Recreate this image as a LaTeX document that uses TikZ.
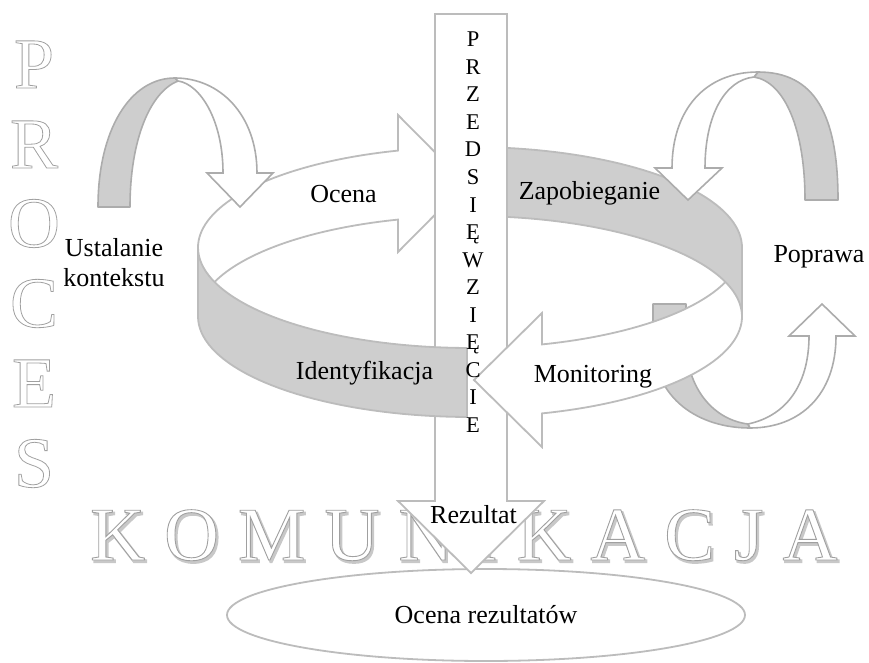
\documentclass[tikz,border=0pt]{standalone}
\usepackage{fontspec}
\setmainfont{Liberation Serif}
\usetikzlibrary{shapes.geometric}

\definecolor{ringfill}{RGB}{206,206,206}
\definecolor{ringline}{RGB}{188,188,188}
\definecolor{arcline}{RGB}{172,172,172}
\definecolor{hollowgray}{RGB}{160,160,160}
\definecolor{shadowgray}{RGB}{200,200,200}

% outlined glyphs: stroke only (#1 = stroke width)
\newcommand\hollowtext[2]{\special{pdf:literal direct 1 Tr #1 w}#2\special{pdf:literal direct 0 Tr}}
% outlined glyphs with white interior
\newcommand\whitehollow[2]{\special{pdf:literal direct 2 Tr #1 w 1 g}#2\special{pdf:literal direct 0 Tr}}
% filled and stroked in the current colour
\newcommand\thicktext[2]{\special{pdf:literal direct 2 Tr #1 w}#2\special{pdf:literal direct 0 Tr}}

% ring geometry: centre x, top and bottom rim centres, radii
\def\ringX{470}\def\ringTop{247.5}\def\ringBot{316.5}\def\ringA{272}\def\ringB{100.5}

\tikzset{
  bandgray/.style={fill=ringfill, draw=ringline, line width=1.8pt, line join=round},
  bandwhite/.style={fill=white, draw=ringline, line width=1.8pt, line join=miter},
  arcgray/.style={fill=ringfill, draw=arcline, line width=1.6pt, line join=round},
  arcwhite/.style={fill=white, draw=arcline, line width=1.6pt, line join=miter},
  txt/.style={font=\fontsize{26}{30}\selectfont, inner sep=0pt},
  vletter/.style={font=\fontsize{22.5}{26}\selectfont, inner sep=0pt, anchor=base},
  bigletter/.style={font=\fontsize{72}{80}\selectfont, inner sep=0pt, anchor=base, text=hollowgray},
  komfont/.style={anchor=base west, inner sep=0pt, font=\fontsize{76}{80}\selectfont},
  toprim/.style={domain=#1, samples=40, variable=\t},
}

\begin{document}
\begin{tikzpicture}[x=1pt,y=-1pt]
\useasboundingbox (0,0) rectangle (869,663);

% ---- P R O C E S down the left side
\foreach \ch/\yy [count=\i] in {P/88,R/168,O/247,C/327,E/407,S/487}
  \node[bigletter] (proc\i) at (34,\yy) {\hollowtext{0.8}{\ch}};

% ---- K O M U N I K A C J A with its shadow
\node[komfont, text=shadowgray] (komshadow) at (91.8,562.2)
  {\thicktext{1.8}{K O M U N I K A C J A}};
\node[komfont, text=hollowgray] (kom) at (90,560)
  {\whitehollow{0.9}{K O M U N I K A C J A}};

% ---- result ellipse
\node[ellipse, draw=ringline, line width=1.8pt, fill=white, minimum width=518pt,
      minimum height=92pt, inner sep=0pt, font=\fontsize{26}{30}\selectfont]
  (wynik) at (486,615) {Ocena rezultatów};

% ---- lower right U-turn arrow (Poprawa)
\draw[arcgray] (653,304) -- (653,340) .. controls (653,400) and (700,428) .. (750,428)
  -- (748,424) .. controls (715,420) and (686,390) .. (686,340) -- (686,304) -- cycle;
\draw[arcwhite] (748,424) .. controls (790,415) and (809,380) .. (809,336)
  -- (789,336) -- (822,304) -- (855,336) -- (836,336)
  .. controls (836,395) and (800,428) .. (750,428) -- cycle;

% ---- back of the ring: Ocena arrow
\draw[bandwhite] (198,\ringBot) -- (198,\ringTop)
  -- plot[toprim=-180:-105.35] ({\ringX+\ringA*cos(\t)},{\ringTop+\ringB*sin(\t)})
  -- (398,115) -- (466,183.5) -- (398,252)
  -- plot[toprim=-105.35:-180] ({\ringX+\ringA*cos(\t)},{\ringBot+\ringB*sin(\t)})
  -- cycle;

% ---- central arrow (PRZEDSIĘWZIĘCIE -> Rezultat)
\draw[arcwhite, draw=ringline, line width=1.8pt] (435,14) -- (507,14) -- (507,501) -- (544,501)
  -- (471,573) -- (398,501) -- (435,501) -- cycle;

% ---- front of the ring: Identyfikacja band
\draw[bandgray]
  plot[toprim=180:90.63] ({\ringX+\ringA*cos(\t)},{\ringTop+\ringB*sin(\t)})
  -- plot[toprim=90.63:180] ({\ringX+\ringA*cos(\t)},{\ringBot+\ringB*sin(\t)})
  -- cycle;

% ---- front of the ring: Monitoring arrow
\draw[bandwhite]
  plot[toprim=0:74.65] ({\ringX+\ringA*cos(\t)},{\ringTop+\ringB*sin(\t)})
  -- (542,313) -- (474,380) -- (542,447)
  -- plot[toprim=74.65:0] ({\ringX+\ringA*cos(\t)},{\ringBot+\ringB*sin(\t)})
  -- cycle;

% ---- back right of the ring: Zapobieganie band
\draw[bandgray]
  plot[toprim=-82.18:0] ({\ringX+\ringA*cos(\t)},{\ringTop+\ringB*sin(\t)})
  -- plot[toprim=0:-82.18] ({\ringX+\ringA*cos(\t)},{\ringBot+\ringB*sin(\t)})
  -- cycle;

% ---- top left arc arrow (Ustalanie kontekstu)
\draw[arcgray] (98,207) .. controls (98,130) and (130,78) .. (175,78)
  -- (178,81) .. controls (150,92) and (130,140) .. (130,207) -- cycle;
\draw[arcwhite] (175,78) .. controls (220,78) and (257,115) .. (257,173)
  -- (273,173) -- (240,207) -- (207,173) -- (223,173)
  .. controls (223,120) and (200,84) .. (178,81) -- cycle;

% ---- top right arc arrow (Poprawa)
\draw[arcgray] (758,72) .. controls (815,72) and (838,115) .. (838,200)
  -- (805,200) .. controls (805,130) and (785,82) .. (754,77) -- cycle;
\draw[arcwhite] (705,168) .. controls (705,115) and (725,80) .. (754,77)
  -- (758,72) .. controls (705,72) and (672,110) .. (672,168)
  -- (655,168) -- (688,200) -- (722,168) -- cycle;

% ---- labels
\node[txt, anchor=base] (ocena) at (343.5,202) {Ocena};
\node[txt, anchor=base] (zapob) at (589.5,200) {Zapobieganie};
\node[txt, anchor=base] (popr) at (819,262) {Poprawa};
\node[txt, anchor=base] (monit) at (593,382) {Monitoring};
\node[txt, anchor=base] (ident) at (364.5,379) {Identyfikacja};
\node[txt, align=center] (ustal) at (114,263) {Ustalanie\\kontekstu};
\node[txt, anchor=base] (rezult) at (473.5,523) {Rezultat};

% ---- vertical lettering in the central arrow
\foreach \ch [count=\i from 0] in {P,R,Z,E,D,S,I,Ę,W,Z,I,Ę,C,I,E}
  \node[vletter] (przed\i) at (473,{47+27.5*\i}) {\ch};

\end{tikzpicture}
\end{document}
